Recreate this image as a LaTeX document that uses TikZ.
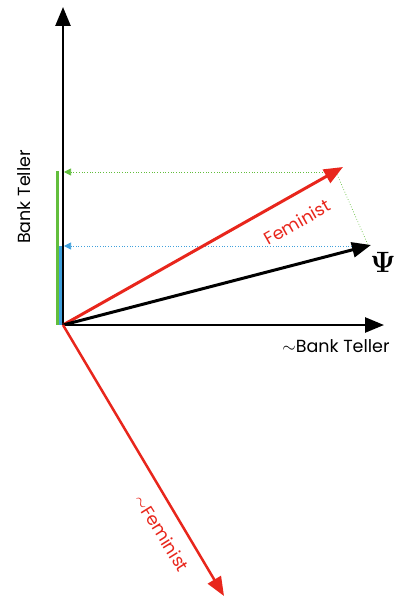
\documentclass[tikz,border=0pt]{standalone}
\usepackage{amsmath,amssymb}
\usepackage{graphicx}
\usepackage{fontspec}
\setsansfont{Poppins}
\usetikzlibrary{arrows.meta}
\definecolor{femred}{RGB}{232,38,28}
\definecolor{projgreen}{RGB}{98,190,60}
\definecolor{projblue}{RGB}{64,160,220}

\begin{document}
\begin{tikzpicture}[x=1pt,y=-1pt,line width=2.5pt,
  every node/.style={font=\sffamily\fontsize{17.5pt}{19pt}\selectfont,inner sep=0pt},
  bigtip/.style={-{Triangle[length=19pt,width=15pt]}},
  projline/.style={line width=0.7pt,dotted,-{Triangle[length=7pt,width=7pt]}}]
  \useasboundingbox (0,0) rectangle (396,601);
  \coordinate (O) at (63,325);
  \coordinate (Y) at (63,7);
  \coordinate (X) at (384,325);
  \coordinate (F) at (343,167);
  \coordinate (P) at (371,245);
  \coordinate (NF) at (224,596);
  \coordinate (Fy) at (64,172);
  \coordinate (Py) at (64,246);
  % projections onto the bank teller axis
  \draw[projgreen,line width=3pt] (57,171) -- (57,325);
  \draw[projblue,line width=3pt] (60,246) -- (60,325);
  \draw[projline,projgreen] (336,172) -- (Fy);
  \draw[line width=0.7pt,dotted,projgreen] (336,172) -- (368,245);
  \draw[projline,projblue] (368,246) -- (Py);
  % axes
  \draw[bigtip] (O) -- (Y);
  \draw[bigtip] (O) -- (X);
  % state vectors
  \draw[bigtip,femred,line width=3pt] (O) -- (F);
  \draw[bigtip,line width=3pt] (O) -- (P);
  \draw[bigtip,femred,line width=2.5pt] (O) -- (NF);
  % labels
  \node[rotate=90] (bt) at (24,197) {Bank Teller};
  \node (nbt) at (336,346) {$\sim$Bank Teller};
  \node[rotate=29.5,text=femred] (fem) at (297,222) {Feminist};
  \node[rotate=-58,text=femred] (nfem) at (162,533) {$\sim$Feminist};
  \node (psi) at (383,262) {\scalebox{1.7}{$\boldsymbol{\Psi}$}};
\end{tikzpicture}
\end{document}
